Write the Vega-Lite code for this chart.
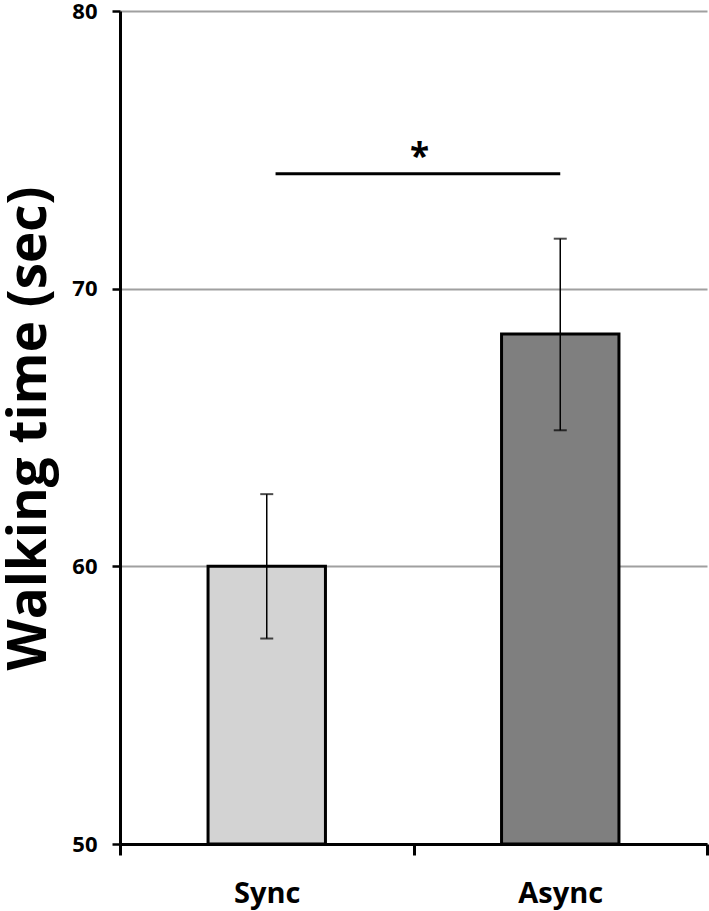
{
  "$schema": "https://vega.github.io/schema/vega-lite/v6.json",
  "width": 587,
  "height": 833,
  "autosize": {"type": "none"},
  "padding": {"left": 120, "top": 11, "right": 2, "bottom": 67},
  "background": "white",
  "config": {
    "view": {"stroke": null},
    "font": "Open Sans",
    "axisX": {
      "title": null, "tickBand": "extent", "grid": false,
      "domainColor": "black", "domainWidth": 3,
      "tickColor": "black", "tickWidth": 3, "tickSize": 11,
      "labelFont": "Open Sans", "labelFontWeight": "bold", "labelFontSize": 29,
      "labelColor": "black", "labelAngle": 0, "labelBaseline": "alphabetic", "labelPadding": 47
    },
    "axisY": {
      "titleFont": "Open Sans", "titleFontSize": 53,
      "titleFontWeight": "bold", "titleColor": "black", "titleAngle": -90,
      "titleX": -75, "titleY": 417, "titleBaseline": "alphabetic", "titleAlign": "center",
      "grid": true, "gridColor": "#a0a0a0", "gridWidth": 2,
      "domainColor": "black", "domainWidth": 3,
      "tickColor": "black", "tickWidth": 2.5, "tickSize": 8,
      "labelFont": "Open Sans", "labelFontSize": 22, "labelFontWeight": "bold",
      "labelColor": "black", "labelPadding": 15, "labelBaseline": "middle"
    }
  },
  "datasets": {
    "bars": [
      {"cond": "Sync", "mean": 60.0, "lo": 57.4, "hi": 62.6},
      {"cond": "Async", "mean": 68.37, "lo": 64.9, "hi": 71.8}
    ],
    "sig": [
      {"from": "Sync", "to": "Async", "line_y": 74.14, "star_y": 74.33, "label": "*"}
    ]
  },
  "layer": [
    {
      "data": {"name": "bars"},
      "mark": {"type": "bar", "width": {"band": 0.4}, "stroke": "black", "strokeWidth": 3},
      "encoding": {
        "x": {
          "field": "cond", "type": "nominal", "sort": null,
          "scale": {"domain": ["Sync", "Async"], "paddingInner": 0, "paddingOuter": 0},
          "axis": {"title": null}
        },
        "y": {
          "field": "mean", "type": "quantitative",
          "scale": {"domain": [50, 80], "zero": false, "nice": false},
          "axis": {"title": "Walking time (sec)", "values": [50, 60, 70, 80]}
        },
        "y2": {"datum": 50},
        "fill": {
          "field": "cond", "type": "nominal",
          "scale": {"domain": ["Sync", "Async"], "range": ["#d3d3d3", "#7f7f7f"]},
          "legend": null
        }
      }
    },
    {
      "data": {"name": "bars"},
      "mark": {"type": "rule", "color": "black", "strokeWidth": 1.5},
      "encoding": {
        "x": {"field": "cond", "type": "nominal", "sort": null},
        "y": {"field": "lo", "type": "quantitative"},
        "y2": {"field": "hi"}
      }
    },
    {
      "data": {"name": "bars"},
      "mark": {"type": "tick", "orient": "horizontal", "color": "black", "size": 13, "thickness": 2},
      "encoding": {
        "x": {"field": "cond", "type": "nominal", "sort": null},
        "y": {"field": "hi", "type": "quantitative"}
      }
    },
    {
      "data": {"name": "bars"},
      "mark": {"type": "tick", "orient": "horizontal", "color": "black", "size": 13, "thickness": 2},
      "encoding": {
        "x": {"field": "cond", "type": "nominal", "sort": null},
        "y": {"field": "lo", "type": "quantitative"}
      }
    },
    {
      "data": {"name": "sig"},
      "mark": {"type": "rule", "color": "black", "strokeWidth": 3},
      "encoding": {
        "x": {"field": "from", "type": "nominal", "sort": null, "bandPosition": 0.53},
        "x2": {"field": "to"},
        "y": {"field": "line_y", "type": "quantitative"}
      }
    },
    {
      "data": {"name": "sig"},
      "mark": {"type": "text", "font": "Open Sans", "fontWeight": "bold", "fontSize": 35, "color": "black", "baseline": "alphabetic", "align": "center", "dx": 6},
      "encoding": {
        "x": {"field": "from", "type": "nominal", "sort": null, "bandPosition": 1},
        "y": {"field": "star_y", "type": "quantitative"},
        "text": {"field": "label"}
      }
    }
  ]
}
